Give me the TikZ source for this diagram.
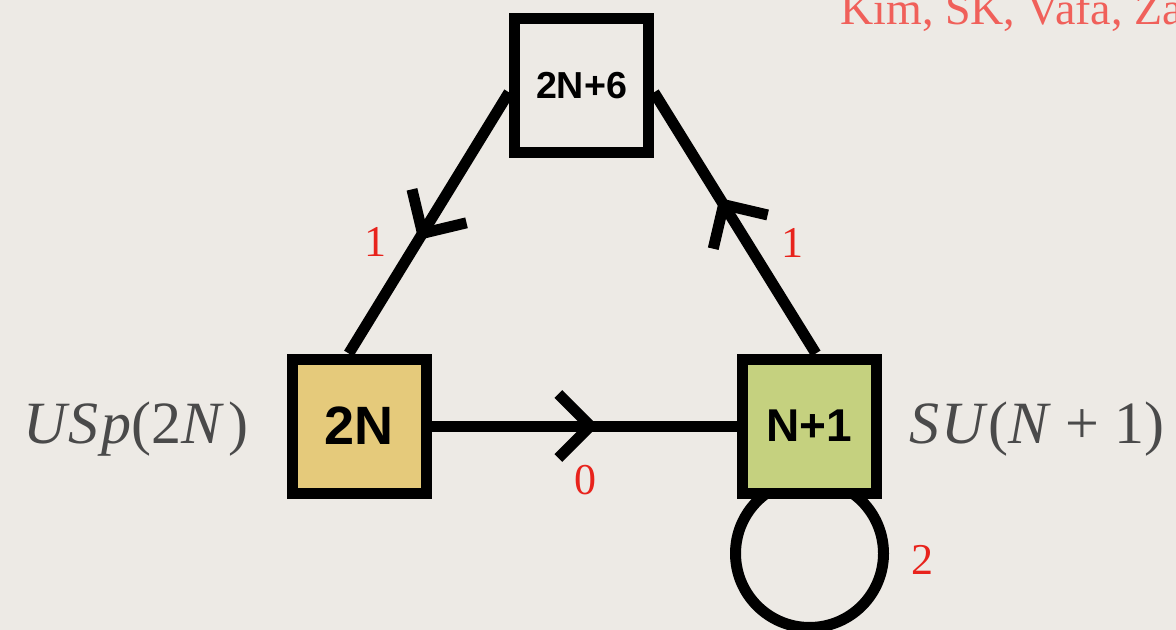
\documentclass[tikz,border=0pt]{standalone}
\usepackage{fontspec}
\setmainfont{Liberation Serif}
\newfontfamily\boxfont{Liberation Sans}
\usetikzlibrary{decorations.markings,calc}
\pgfdeclarelayer{bg}
\pgfdeclarelayer{edges}
\pgfsetlayers{bg,edges,main}
\definecolor{paper}{HTML}{EDEAE5}
\definecolor{usp}{HTML}{E5CA7B}
\definecolor{sun}{HTML}{C5D17F}
\definecolor{labred}{HTML}{E8231C}
\definecolor{refred}{HTML}{F0605A}
\definecolor{grptext}{HTML}{4A4A4A}
\begin{document}
\begin{tikzpicture}[x=0.5pt,y=-0.5pt,
  gbox/.style={draw=black, line width=5.5pt, minimum size=67pt, inner sep=0pt, font=\boxfont\bfseries},
  edge/.style={line width=5.5pt},
  chev/.style={postaction={decorate}, decoration={markings, mark=at position #1 with {\draw[line width=5.5pt, line join=miter] (-16pt,16pt) -- (0pt,0pt) -- (-16pt,-16pt);}}},
  lab/.style={text=labred, font=\fontsize{22}{22}\selectfont, inner sep=0pt},
  grp/.style={text=grptext, font=\fontsize{30}{30}\selectfont, inner sep=0pt, anchor=base}
]
\useasboundingbox (0,0) rectangle (1176,630);
\begin{pgfonlayer}{bg}
  \fill[paper] (0,0) rectangle (1176,630);
\end{pgfonlayer}

\node[gbox, fill=paper, font=\boxfont\bfseries\fontsize{18.8}{18.8}\selectfont] (top) at (581.5,86) {2N+6};
\node[gbox, fill=usp, font=\boxfont\bfseries\fontsize{27}{27}\selectfont] (a) at (359,426) {2N};
\node[gbox, fill=sun, font=\boxfont\bfseries\fontsize{23}{23}\selectfont] (b) at (809.5,426) {N+1};

\begin{pgfonlayer}{edges}
  \draw[edge, chev=0.52] (a.east) -- (b.west);
  \draw[edge, chev=0.54] (top.185) -- (a.98);
  \draw[edge, chev=0.57] (b.85) -- (top.355);
  \draw[edge] ($(b.south)+(0,55)$) circle[radius=37pt];
\end{pgfonlayer}

\node[lab] (l1) at (375,242) {1};
\node[lab] (l2) at (792,243) {1};
\node[lab] (l3) at (585,480) {0};
\node[lab] (l4) at (922,560) {2};

\node[grp] (g1) at (136,443) {\textit{U\kern0.04emS\kern0.04emp}(2\textit{N}\kern0.08em)};
\node[grp] (g2) at (1037,443) {\textit{S\kern0.04emU}(\textit{N}\hspace{0.25em}+\hspace{0.25em}1)};

\node[text=refred, font=\fontsize{23}{23}\selectfont, inner sep=0pt, anchor=base west] (ref) at (840,25) {Kim, SK, Vafa, Zafrir};
\end{tikzpicture}
\end{document}
